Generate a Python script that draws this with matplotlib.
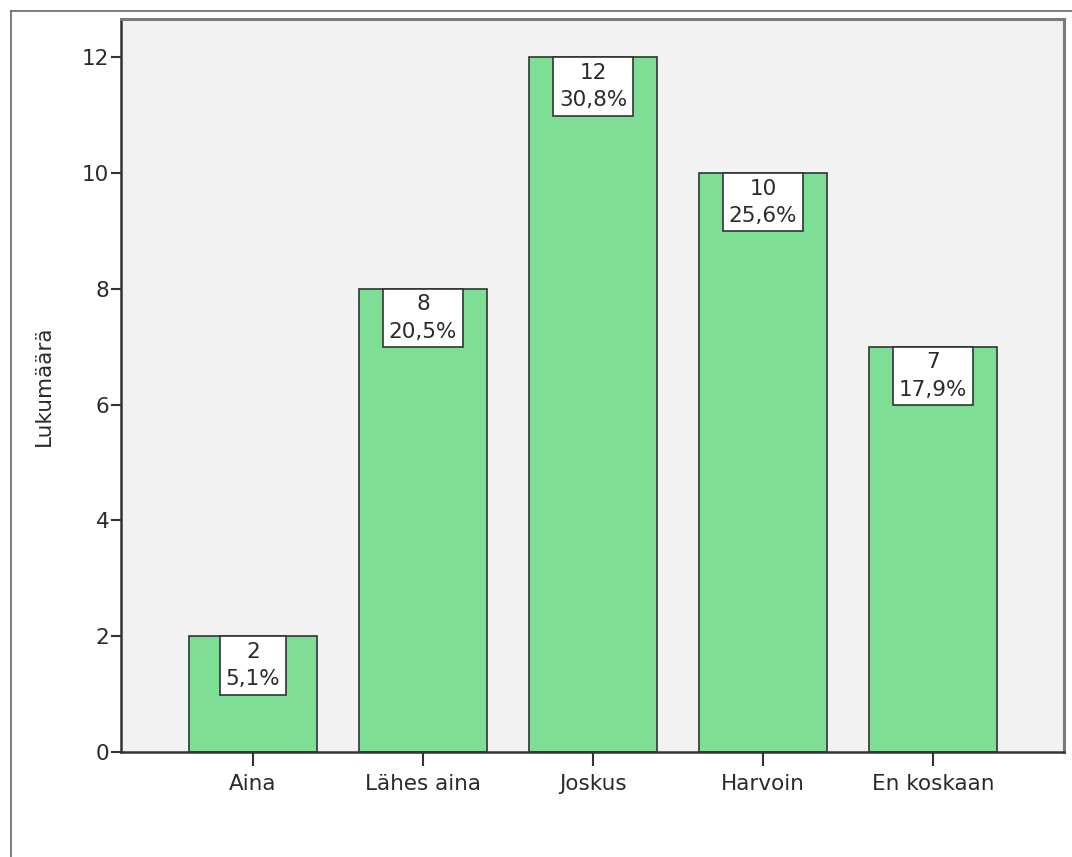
import matplotlib

matplotlib.use("Agg")

import matplotlib.pyplot as plt
from matplotlib.lines import Line2D

categories = ["Aina", "Lähes aina", "Joskus", "Harvoin", "En koskaan"]
counts = [2, 8, 12, 10, 7]
percents = [5.1, 20.5, 30.8, 25.6, 17.9]
y_ticks = [0, 2, 4, 6, 8, 10, 12]

BAR_COLOR = "#7ede95"
EDGE_COLOR = "#333333"
PANEL_COLOR = "#f2f2f2"
TEXT_COLOR = "#2a2a2a"
FONT_SIZE = 15.5
BOX_PAD = 0.26

plt.rcParams["font.family"] = ["DejaVu Sans"]

fig = plt.figure(figsize=(10.72, 8.57), dpi=100)
ax = fig.add_axes([121 / 1072, 1 - 752 / 857, (1064 - 121) / 1072, (752 - 19) / 857])
ax.set_facecolor(PANEL_COLOR)

x = list(range(len(categories)))
ax.bar(x, counts, width=0.75, color=BAR_COLOR, edgecolor=EDGE_COLOR, linewidth=1.2, zorder=2)

# count + share label boxes hang from the top edge of each bar
for xi, c, p in zip(x, counts, percents):
    label = f"{c}\n{p:.1f}%".replace(".", ",")
    ax.annotate(label, xy=(xi, c), xytext=(0, -BOX_PAD * FONT_SIZE), textcoords="offset points",
                ha="center", va="top", fontsize=FONT_SIZE, color=TEXT_COLOR,
                linespacing=1.45, zorder=3,
                bbox=dict(boxstyle=f"square,pad={BOX_PAD}", facecolor="white",
                          edgecolor=EDGE_COLOR, linewidth=1.2))

ax.set_xlim(-0.776, 4.77)
ax.set_ylim(0, 12.66)
ax.set_xticks(x)
ax.set_xticklabels(categories)
ax.set_yticks(y_ticks)
ax.tick_params(axis="x", length=10, width=1.5, color=EDGE_COLOR, pad=6,
               labelsize=FONT_SIZE, labelcolor=TEXT_COLOR)
ax.tick_params(axis="y", length=7.5, width=1.5, color=EDGE_COLOR, pad=1,
               labelsize=FONT_SIZE, labelcolor=TEXT_COLOR)
ax.set_ylabel("Lukumäärä", fontsize=FONT_SIZE, color=TEXT_COLOR, labelpad=20)

for side in ("left", "bottom"):
    ax.spines[side].set_color(EDGE_COLOR)
    ax.spines[side].set_linewidth(1.8)
for side in ("top", "right"):
    ax.spines[side].set_color("#7a7a7a")
    ax.spines[side].set_linewidth(2.2)

# outer chart frame (left and top edges)
fx = 11 / 1072
fy = 1 - 11 / 857
fig.add_artist(Line2D([fx, fx], [0, fy], transform=fig.transFigure, color="#666666", linewidth=1.2))
fig.add_artist(Line2D([fx, 1], [fy, fy], transform=fig.transFigure, color="#666666", linewidth=1.2))

fig.savefig("out.png", dpi=100)
